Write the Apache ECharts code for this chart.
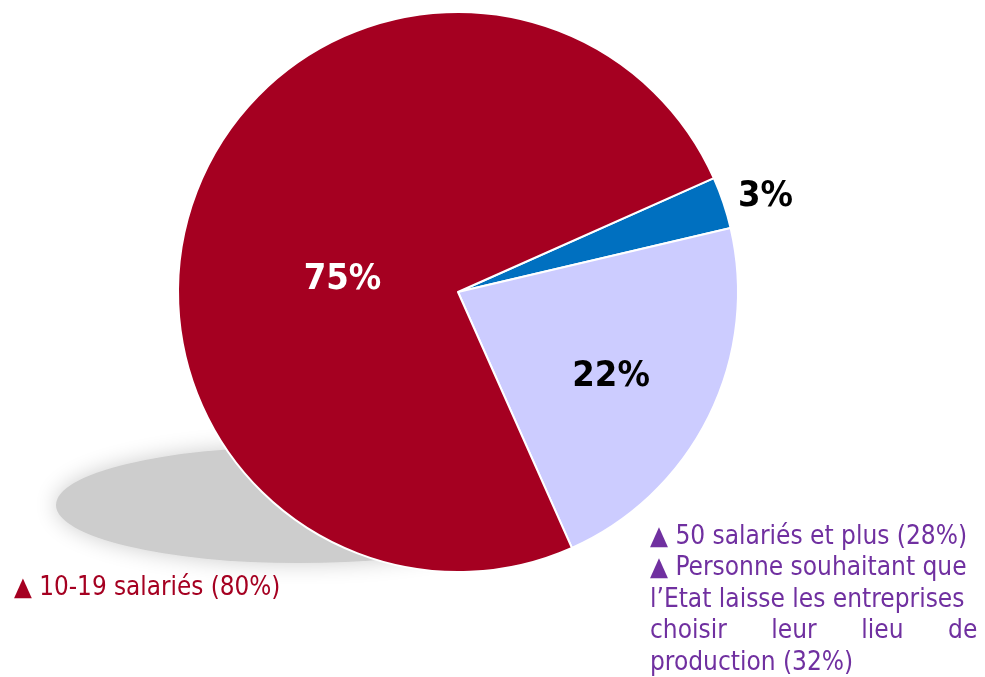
<!DOCTYPE html>
<html>
<head>
<meta charset="utf-8">
<script src="https://cdn.jsdelivr.net/npm/echarts@6/dist/echarts.min.js"></script>
<style>
  html, body { margin: 0; padding: 0; background: #fff; }
  #chart { width: 985px; height: 677px; }
</style>
</head>
<body>
<div id="chart"></div>
<script>
// data
var categories = ["50 salariés et plus", "Autres", "10-19 salariés"];
var values = [3, 22, 75];
var sliceColors = ["#0070C0", "#CCCCFF", "#A50021"];
var labelColors = ["#000000", "#000000", "#FFFFFF"];

var noteLeft = "▲ 10-19 salariés (80%)";
var noteRight = [
  "▲ 50 salariés et plus (28%)",
  "▲ Personne souhaitant que",
  "l’Etat laisse les entreprises",
  "choisir      leur      lieu      de",
  "production (32%)"
];

var chart = echarts.init(document.getElementById("chart"));

var option = {
  animation: false,
  graphic: [
    {
      // soft shadow under the pie
      type: "circle",
      z: 0,
      x: 298,
      y: 505,
      scaleY: 0.24,
      shape: { cx: 0, cy: 0, r: 242 },
      style: {
        fill: "#cdcdcd",
        shadowBlur: 22,
        shadowColor: "#cdcdcd"
      }
    },
    {
      type: "text",
      x: 14,
      y: 575,
      style: {
        text: noteLeft,
        fill: "#A50021",
        font: "25.8px 'DejaVu Sans Condensed'"
      }
    },
    {
      type: "text",
      x: 650,
      y: 521,
      style: {
        text: noteRight.join("\n"),
        fill: "#7030A0",
        font: "26px 'DejaVu Sans Condensed'",
        lineHeight: 31.5
      }
    }
  ],
  series: [
    {
      type: "pie",
      z: 2,
      center: [458, 292],
      radius: 280,
      startAngle: 24,
      clockwise: true,
      itemStyle: {
        borderColor: "#ffffff",
        borderWidth: 2
      },
      label: {
        show: true,
        position: "inside",
        formatter: "{c}%",
        fontFamily: "DejaVu Sans Condensed",
        fontWeight: "bold",
        fontSize: 36
      },
      labelLayout: function (p) {
        if (p.dataIndex === 2) return { dx: 18, dy: 39 };
        if (p.dataIndex === 1) return { dx: 25, dy: 21 };
        return { dy: -3 };
      },
      data: values.map(function (v, i) {
        var item = {
          name: categories[i],
          value: v,
          itemStyle: { color: sliceColors[i] },
          label: { color: labelColors[i] }
        };
        if (i === 0) {
          item.label.position = "outside";
          item.labelLine = { show: false, length: 8, length2: 2 };
        }
        return item;
      })
    }
  ]
};

chart.setOption(option);
</script>
</body>
</html>
